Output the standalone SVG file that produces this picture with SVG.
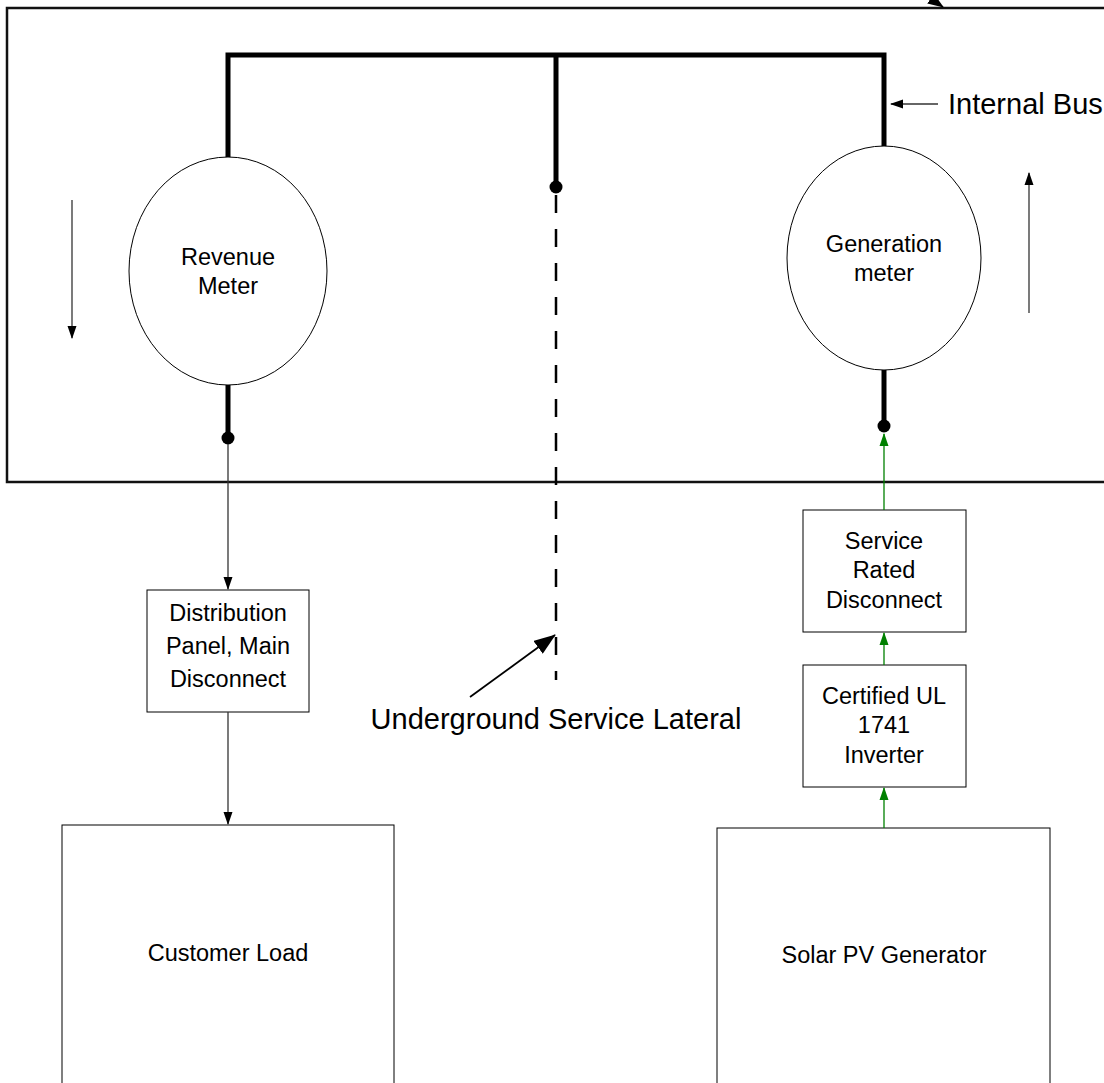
<svg xmlns="http://www.w3.org/2000/svg" width="1104" height="1083" viewBox="0 0 1104 1083">
<defs>
<marker id="ah" markerWidth="13" markerHeight="10" refX="12" refY="5" orient="auto" markerUnits="userSpaceOnUse"><path d="M0,0.5 L13,5 L0,9.5 z" fill="#000"/></marker>
<marker id="ahg" markerWidth="13" markerHeight="10" refX="12" refY="5" orient="auto" markerUnits="userSpaceOnUse"><path d="M0,0.5 L13,5 L0,9.5 z" fill="#008000"/></marker>
<marker id="ahb" markerWidth="22" markerHeight="16" refX="21" refY="8" orient="auto" markerUnits="userSpaceOnUse"><path d="M0,0 L22,8 L0,16 z" fill="#000"/></marker>
<marker id="ahm" markerWidth="16" markerHeight="12" refX="15" refY="6" orient="auto" markerUnits="userSpaceOnUse"><path d="M0,0 L16,6 L0,12 z" fill="#000"/></marker>
</defs>
<style>
.t{font-family:"Liberation Sans",Arial,sans-serif;fill:#000;text-anchor:middle}
.s{font-size:23.5px}
.l{font-size:29px}
.box{fill:#fff;stroke:#000;stroke-width:1}
.bus{stroke:#000;stroke-width:5;fill:none}
.thin{stroke:#333;stroke-width:1.3;fill:none}
.g{stroke:#008000;stroke-width:1.3;fill:none}
</style>
<rect width="1104" height="1083" fill="#fff"/>
<g id="enclosure">
<path d="M1104,8 L7,8 L7,482 L1104,482" fill="none" stroke="#111" stroke-width="2.5"/>
<path d="M915,-12 L943,7" stroke="#000" stroke-width="1.5" marker-end="url(#ahm)"/>
</g>
<g id="bus">
<path class="bus" d="M228,158 L228,55 L884,55 L884,147"/>
<path class="bus" d="M556,55 L556,187"/>
<circle cx="556" cy="187" r="6.5" fill="#000"/>
</g>
<g id="revenue-meter">
<ellipse cx="228" cy="271" rx="99" ry="114" fill="#fff" stroke="#000" stroke-width="1"/>
<text class="t s" x="228" y="265">Revenue</text>
<text class="t s" x="228" y="294">Meter</text>
<path class="bus" d="M228,385 L228,438"/>
<circle cx="228" cy="438" r="6.5" fill="#000"/>
</g>
<g id="generation-meter">
<ellipse cx="884" cy="258" rx="97" ry="112" fill="#fff" stroke="#000" stroke-width="1"/>
<text class="t s" x="884" y="252">Generation</text>
<text class="t s" x="884" y="281">meter</text>
<path class="bus" d="M884,370 L884,425"/>
<circle cx="884" cy="426" r="6.5" fill="#000"/>
</g>
<g id="distribution-panel">
<rect class="box" x="147" y="590" width="162" height="122"/>
<text class="t s" x="228" y="621">Distribution</text>
<text class="t s" x="228" y="654">Panel, Main</text>
<text class="t s" x="228" y="687">Disconnect</text>
</g>
<g id="customer-load">
<rect class="box" x="62" y="825" width="332" height="270"/>
<text class="t s" x="228" y="961">Customer Load</text>
</g>
<g id="service-disconnect">
<rect class="box" x="803" y="510" width="163" height="122"/>
<text class="t s" x="884" y="549">Service</text>
<text class="t s" x="884" y="578">Rated</text>
<text class="t s" x="884" y="608">Disconnect</text>
</g>
<g id="inverter">
<rect class="box" x="803" y="665" width="163" height="122"/>
<text class="t s" x="884" y="704">Certified UL</text>
<text class="t s" x="884" y="733">1741</text>
<text class="t s" x="884" y="763">Inverter</text>
</g>
<g id="solar-pv">
<rect class="box" x="717" y="828" width="333" height="270"/>
<text class="t s" x="884" y="963">Solar PV Generator</text>
</g>
<g id="labels">
<text class="t l" x="556" y="729">Underground Service Lateral</text>
<text class="t l" x="948" y="114" style="text-anchor:start">Internal Bus</text>
</g>
<g id="connectors">
<path d="M556,195 L556,680" stroke="#000" stroke-width="2.5" stroke-dasharray="18,16" fill="none"/>
<path d="M470,697 L555,635" stroke="#000" stroke-width="1.8" marker-end="url(#ahb)"/>
<path class="thin" d="M228,444 L228,589" marker-end="url(#ah)"/>
<path class="thin" d="M228,712 L228,824" marker-end="url(#ah)"/>
<path class="g" d="M884,510 L884,434" marker-end="url(#ahg)"/>
<path class="g" d="M884,665 L884,633" marker-end="url(#ahg)"/>
<path class="g" d="M884,828 L884,788" marker-end="url(#ahg)"/>
<path class="thin" d="M938,104 L891,104" marker-end="url(#ah)"/>
<path class="thin" d="M72,200 L72,338" marker-end="url(#ah)"/>
<path class="thin" d="M1029,313 L1029,173" marker-end="url(#ah)"/>
</g>
</svg>
